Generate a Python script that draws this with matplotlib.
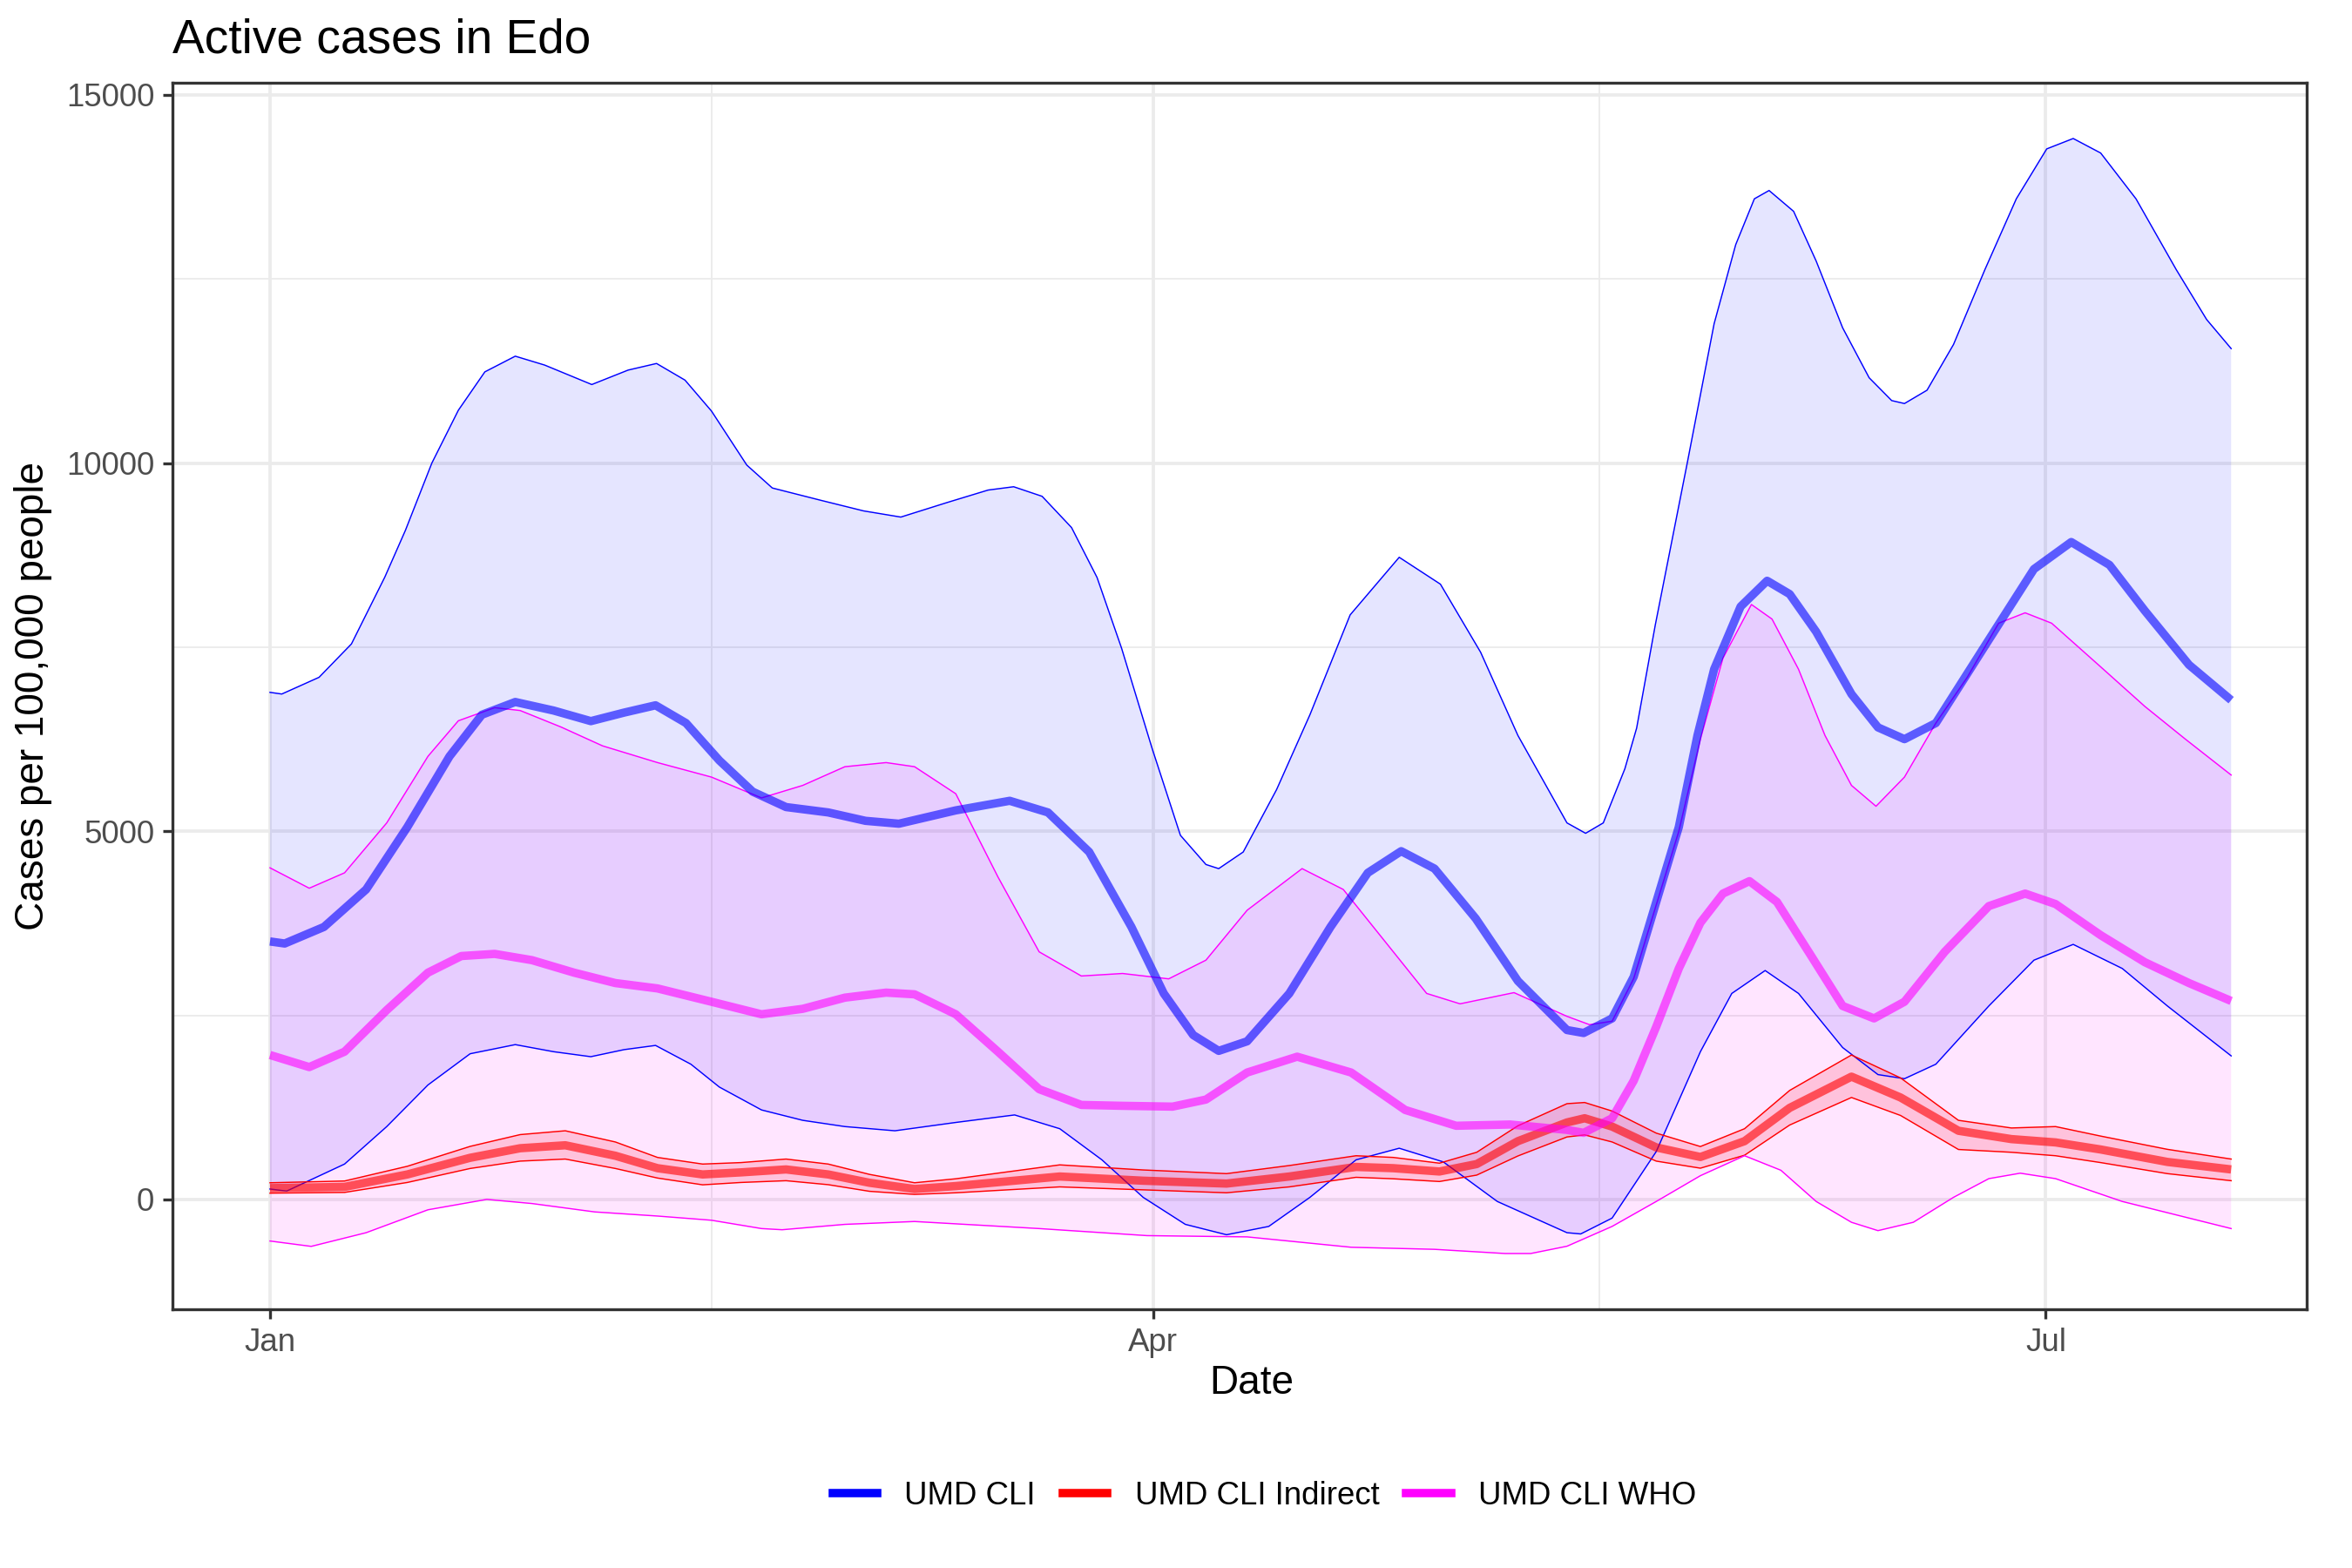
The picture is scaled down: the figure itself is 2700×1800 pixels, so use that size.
import numpy as np
import matplotlib
matplotlib.use("Agg")
import matplotlib.pyplot as plt
import matplotlib.dates as mdates
from matplotlib.ticker import MultipleLocator, FixedLocator
from matplotlib.lines import Line2D

plt.rcParams["font.family"] = ["Liberation Sans", "DejaVu Sans"]

start = "2021-01-01"

# UMD CLI  (x = days since Jan 1)
cli_days = [0, 1.5, 5.5, 9.8, 14, 18.3, 21.6, 25, 28.9, 32.7, 36.1, 39.3, 42.4, 45.8, 49.2,
            52.6, 56.9, 60.7, 64.1, 69.9, 75.4, 79.3, 83.5, 87.8, 91.1, 94.1, 96.7, 99.6, 103.9,
            108.1, 111.9, 115.3, 118.7, 122.9, 127.2, 132.2, 133.9, 136.8, 139, 141.3, 143.6,
            145.5, 147.2, 149.9, 152.6, 154.9, 157.6, 161.2, 163.9, 166.6, 169.8, 175.2, 179.8,
            183.6, 187.5, 191.1, 195.6, 199.9]
cli_mean = [3503, 3475, 3700, 4209, 5057, 6017, 6582, 6755, 6639, 6495, 6611, 6710, 6469, 5961,
            5537, 5328, 5255, 5141, 5102, 5283, 5413, 5255, 4718, 3701, 2797, 2232, 2017, 2147,
            2797, 3701, 4435, 4729, 4492, 3814, 2966, 2300, 2260, 2458, 3023, 4040, 5057, 6300,
            7200, 8051, 8401, 8220, 7709, 6862, 6410, 6250, 6469, 7600, 8560, 8927, 8616, 7994,
            7260, 6780]
cli_up_days = [0, 1.2, 5, 8.3, 11.7, 13.8, 16.5, 19.2, 21.9, 25, 28, 32.8, 36.5, 39.4, 42.3, 45,
               48.6, 51.2, 56.2, 60.5, 64.3, 69, 73.2, 75.8, 78.7, 81.7, 84.3, 86.8, 89.9, 92.8,
               95.4, 96.7, 99.2, 102.6, 106, 110.1, 115.1, 119.3, 123.4, 127.2, 132.2, 134.1,
               135.9, 138.1, 139.3, 141.2, 144.5, 147.2, 149.4, 151.3, 152.8, 155.3, 157.6,
               160.3, 163, 165.3, 166.6, 168.9, 171.6, 174.8, 178, 181.1, 183.8, 186.6, 190.2,
               194.3, 197.4, 199.9]
cli_up = [6886, 6863, 7090, 7543, 8450, 9085, 10000, 10717, 11238, 11451, 11330, 11066, 11262,
          11352, 11126, 10706, 9972, 9661, 9492, 9350, 9266, 9463, 9633, 9678, 9548, 9124, 8446,
          7486, 6130, 4944, 4548, 4492, 4718, 5565, 6582, 7938, 8720, 8355, 7430, 6300, 5113,
          4972, 5113, 5848, 6400, 7800, 10028, 11893, 12966, 13588, 13701, 13418, 12743, 11836,
          11158, 10848, 10808, 10989, 11610, 12627, 13588, 14266, 14407, 14210, 13588, 12627,
          11949, 11554]
cli_lo_days = [0, 1.7, 7.6, 11.9, 16.1, 20.4, 25, 28.9, 32.7, 36.1, 39.3, 42.9, 45.8, 50.1, 54.3,
               58.6, 63.7, 69.9, 75.9, 80.5, 84.8, 89, 93.3, 97.5, 101.8, 106, 110.7, 115.1,
               119.6, 125.1, 132.2, 133.6, 136.8, 141.3, 145.8, 149, 152.4, 155.8, 160.3, 163.9,
               166.6, 169.8, 175.2, 179.8, 183.8, 188.8, 193.4, 199.9]
cli_lo = [141, 113, 480, 989, 1554, 1978, 2102, 2006, 1938, 2034, 2091, 1836, 1526, 1215, 1074,
          989, 932, 1045, 1147, 960, 537, 28, -339, -480, -367, 28, 537, 695, 509, -28, -452,
          -469, -254, 650, 2006, 2797, 3108, 2797, 2062, 1695, 1639, 1836, 2627, 3249, 3463,
          3136, 2627, 1949]

# UMD CLI Indirect
ind_days = [0, 7.6, 14, 20.4, 25.5, 30.1, 35.2, 39.5, 44.1, 48, 52.6, 56.9, 61.1, 65.7, 69.9,
            80.5, 89, 97.5, 103.9, 110.7, 114.5, 119.2, 123, 127.2, 132.2, 134, 136.8, 141.3,
            145.8, 150.3, 154.9, 161.2, 166.2, 172.1, 177.5, 182, 186.6, 193.4, 199.9]
ind_mean = [153, 170, 339, 565, 695, 735, 593, 424, 339, 367, 407, 339, 226, 141, 181, 311, 254,
            215, 311, 441, 424, 379, 480, 791, 1045, 1102, 989, 706, 576, 791, 1243, 1667, 1384,
            932, 819, 774, 678, 509, 407]
ind_up = [226, 250, 450, 720, 880, 932, 780, 570, 480, 500, 548, 480, 340, 226, 280, 469, 400,
          350, 460, 593, 570, 492, 640, 1000, 1300, 1316, 1200, 900, 718, 960, 1480, 1961, 1650,
          1074, 970, 989, 860, 680, 548]
ind_lo = [85, 95, 230, 420, 520, 548, 420, 290, 198, 230, 254, 200, 110, 68, 90, 170, 130, 90,
          170, 300, 280, 243, 330, 590, 848, 876, 780, 520, 424, 600, 1010, 1384, 1140, 678, 640,
          593, 500, 350, 254]

# UMD CLI WHO
who_days = [0, 4, 7.6, 11.9, 16.1, 19.5, 22.9, 26.7, 31, 35.2, 39.5, 45, 50.1, 54.3, 58.6, 62.8,
            65.7, 69.9, 74.2, 78.4, 82.7, 86.9, 92, 95.4, 99.6, 104.7, 110.2, 115.7, 120.9, 126.4,
            132.2, 133.9, 136.8, 139, 141.3, 143.6, 145.8, 148.1, 150.8, 153.6, 157.1, 160.3,
            163.5, 166.6, 170.7, 175.2, 178.9, 182, 186.6, 191.1, 195.6, 199.9]
who_mean = [1961, 1797, 2006, 2571, 3079, 3305, 3334, 3249, 3079, 2938, 2865, 2684, 2514, 2588,
            2740, 2808, 2785, 2514, 2006, 1497, 1283, 1271, 1260, 1356, 1723, 1938, 1723, 1215,
            1000, 1017, 944, 904, 1102, 1611, 2345, 3136, 3757, 4153, 4322, 4040, 3305, 2627,
            2458, 2684, 3362, 3983, 4153, 4011, 3588, 3221, 2938, 2695]
who_up_days = [0, 4, 7.6, 11.9, 16.1, 19.2, 22.9, 25.5, 29.7, 33.9, 39.5, 45, 50.1, 54.3, 58.6,
               62.8, 65.7, 69.9, 74.2, 78.4, 82.7, 86.9, 91.6, 95.4, 99.6, 105.2, 109.4, 114.5,
               117.9, 121.3, 126.8, 132.2, 134.5, 136.8, 139, 141.3, 143.6, 145.8, 148.1, 151,
               153.1, 155.8, 158.5, 161.2, 163.7, 166.6, 169.8, 173, 176.2, 178.9, 181.6, 186.6,
               191.1, 195.2, 199.9]
who_up = [4503, 4226, 4435, 5113, 6017, 6500, 6678, 6639, 6413, 6159, 5932, 5735, 5452, 5622,
          5876, 5932, 5876, 5509, 4379, 3362, 3034, 3068, 2995, 3249, 3927, 4492, 4209, 3362,
          2797, 2656, 2808, 2486, 2373, 2420, 3000, 4000, 5000, 6250, 7350, 8079, 7881, 7200,
          6300, 5622, 5339, 5735, 6469, 7090, 7825, 7966, 7825, 7232, 6695, 6254, 5763]
who_lo_days = [0, 4.2, 9.8, 16.1, 22.1, 26.7, 33.1, 39.5, 45, 50.1, 52.2, 58.6, 65.7, 78.4, 89.4,
               99.6, 110.2, 118.7, 125.9, 128.5, 132.2, 136.8, 141.3, 145.8, 150.3, 154, 157.6,
               161.2, 163.9, 167.5, 171.6, 175.2, 178.4, 182, 188.8, 199.9]
who_lo = [-565, -638, -452, -141, 0, -56, -170, -226, -283, -396, -412, -339, -300, -396, -492,
          -509, -650, -678, -735, -735, -636, -367, -28, 322, 593, 396, -28, -311, -424, -311, 28,
          282, 356, 282, -28, -396]

labels = ["UMD CLI", "UMD CLI Indirect", "UMD CLI WHO"]
colors = ["#0000FF", "#FF0000", "#FF00FF"]

t0 = mdates.date2num(np.datetime64(start))


def dnum(days):
    return t0 + np.asarray(days, dtype=float)


fig = plt.figure(figsize=(9, 6), dpi=300)
ax = fig.add_axes([198 / 2700, 1 - 1503 / 1800, 2450 / 2700, 1408 / 1800])

bands = [
    (cli_up_days, cli_up, cli_lo_days, cli_lo, colors[0], 0.1),
    (ind_days, ind_up, ind_days, ind_lo, colors[1], 0.15),
    (who_up_days, who_up, who_lo_days, who_lo, colors[2], 0.1),
]
for ud, uv, ld, lv, col, a in bands:
    xs = np.r_[dnum(ud), dnum(ld)[::-1]]
    ys = np.r_[uv, lv[::-1]]
    ax.fill(xs, ys, color=col, alpha=a, lw=0)
    ax.plot(dnum(ud), uv, color=col, lw=0.35)
    ax.plot(dnum(ld), lv, color=col, lw=0.35)

means = [(cli_days, cli_mean), (ind_days, ind_mean), (who_days, who_mean)]
for (d, v), col in zip(means, colors):
    ax.plot(dnum(d), v, color=col, lw=2.3, alpha=0.6, solid_capstyle="butt")

ax.margins(y=0.05)
ax.set_xlim(dnum(-9.94), dnum(207.6))

ax.xaxis.set_major_locator(mdates.MonthLocator(bymonth=[1, 4, 7]))
ax.xaxis.set_major_formatter(mdates.DateFormatter("%b"))
ax.xaxis.set_minor_locator(FixedLocator(dnum([45, 135.5])))
ax.yaxis.set_major_locator(MultipleLocator(5000))
ax.yaxis.set_minor_locator(MultipleLocator(2500))

ax.set_axisbelow(True)
ax.grid(which="major", color="#EBEBEB", lw=0.9)
ax.grid(which="minor", color="#EBEBEB", lw=0.45)
ax.tick_params(which="major", direction="out", length=2.75, width=0.8, color="#333333",
               labelsize=8.8, labelcolor="#4D4D4D", pad=2.2)
ax.tick_params(which="minor", length=0)
for s in ax.spines.values():
    s.set_color("#333333")
    s.set_linewidth(0.8)

fig.text(0.0733, 0.9665, "Active cases in Edo", fontsize=13.2, ha="left", va="baseline")
fig.text(0.532, 0.1177, "Date", fontsize=11, ha="center", va="center")
fig.text(0.014, 0.556, "Cases per 100,000 people", fontsize=11, rotation=90,
         ha="center", va="center")

handles = [Line2D([0], [0], color=c, lw=2.3) for c in colors]
fig.legend(handles, labels, loc="center", bbox_to_anchor=(0.5376, 0.046), ncol=3,
           frameon=False, fontsize=8.8, handlelength=1.4, handletextpad=0.85,
           columnspacing=0.85)

fig.savefig("out.png", dpi=300)
